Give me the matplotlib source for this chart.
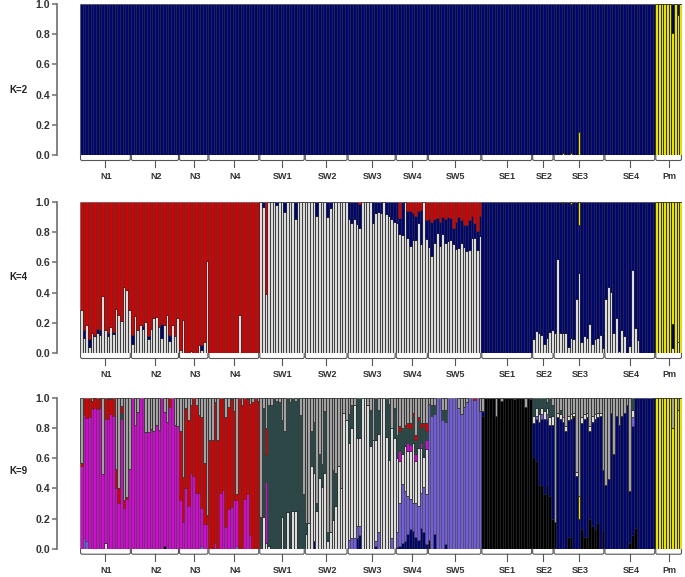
"""STRUCTURE-style admixture barplots for K=2, K=4 and K=9."""
import matplotlib
matplotlib.use("Agg")
import matplotlib.pyplot as plt
import numpy as np

plt.rcParams["font.family"] = ["Liberation Sans", "DejaVu Sans"]

# ── Groups ────────────────────────────────────────────────────────────────────
groups = ["N1", "N2", "N3", "N4", "SW1", "SW2", "SW3", "SW4", "SW5",
          "SE1", "SE2", "SE3", "SE4", "Pm"]
counts = [19, 18, 11, 19, 17, 16, 18, 12, 20, 19, 8, 19, 19, 10]
n_bars = sum(counts)

NAVY, RED, YELLOW = "#00066c", "#cc0606", "#e6e010"
LIGHT, GRAY = "#dcdcdc", "#a2a2a2"
BLACK, SLATE, MAGENTA, GREEN = "#000000", "#7260d2", "#c810c8", "#2a4a4a"

# ── K=2 : tops of each stacked component ──────────────────────────────────────
k2_yellow = [0] * 180 + [.01, 0, 0, .01, 0, 0, .15] + [0] * 28 \
    + [1, 1, 1, 1, 1, 1, .81, 1, .93, 1]
k2_navy = [1] * n_bars

# ── K=4 ───────────────────────────────────────────────────────────────────────
k4_light = (
    [.285, .10, .185, .04, .135, .11, .13, .12, .38, .15, .115, .175, .125, .29, .25, .21, .44, .415, .285]
    + [.06, .245, .15, .185, .16, .205, .09, .16, .235, .24, .175, .10, .185, .25, .08, .185, .11, .23]
    + [.02, .22, 0, 0, .015, 0, 0, .05, .02, .07, .61]
    + [0] * 11 + [.25] + [0] * 7
    + [1, .97, .39, 1, 1, 1, .98, 1, 1, .935, 1, 1, 1, .885, 1, 1, 1]
    + [1, 1, 1, 1, .905, 1, 1, 1, .90, .96, 1, 1, 1, 1, 1, 1]
    + [.885, .86, .885, .855, .825, 1, 1, 1, 1, .86, .93, .935, .93, 1, .92, .905, .885, .87]
    + [.86, .785, .78, 1, .76, .71, .75, .75, .86, .72, 1, .755]
    + [.705, .64, .73, .795, .71, .785, .73, .745, .75, .72, .69, .695, .73, .705, .675, .685, .76, .76, .685, .775]
    + [0] * 13 + [.005] + [0] * 5
    + [.095, .145, .13, .12, .06, .10, .14, .15]
    + [.135, .625, .13, .13, .135, .04, .10, .095, .36, .53, .07, .11, .10, .195, .06, .09, .10, .12, .035]
    + [.36, .44, .405, .135, .235, .015, .15, .11, 0, .045, .55, .165, .085, 0, 0, 0, 0, 0, 0]
    + [0, 0, 0, 0, 0, 0, .03, 0, .075, 0]
)
k4_navy = (
    [.285, .155, .185, .09, .135, .12, .16, .15, .38, .15, .13, .175, .14, .29, .25, .21, .44, .415, .285]
    + [.12, .245, .15, .185, .18, .205, .11, .16, .235, .24, .175, .19, .185, .25, .12, .185, .11, .23]
    + [.02, .22, 0, 0, .015, 0, 0, .05, .05, .07, .61]
    + [0] * 11 + [.25] + [0] * 7
    + [1, 1, .39] + [1] * 14
    + [1] * 16
    + [1, 1, 1, 1, .99] + [1] * 13
    + [1, .895, 1, 1, .94, .94, .93, .905, .94, .95, 1, .88]
    + [.885, .87, .89, .895, .87, .90, .885, .90, .895, .83, .87, .90, .88, .85, .845, .88, .905, .86, .805, .905]
    + [1] * 19 + [1] * 8
    + [1, 1, 1, .995, 1, 1, .99, 1, 1, .85] + [1] * 9
    + [1] * 19
    + [0, 0, 0, 0, 0, 0, .19, 0, .075, 0]
)
k4_red = [1] * 150 + [0] * 75
k4_yellow = [0] * 150 + [1] * 75

# ── K=9 ───────────────────────────────────────────────────────────────────────
k9_black = (
    [0] * 19 + [0] * 12 + [.02] + [0] * 5 + [0] * 30 + [0] * 63
    + [.06] + [0] * 19
    + [.88, 1, 1, 1, 1, .88, 1, .98, 1, 1, 1, 1, .99, 1, 1, 1, .94, 1, .99]
    + [.61, .58, .42, .42, .36, .42, .35, .20]
    + [.18, 0, 0, 0, 0, .08, .08, 0, 0, 0, .13, .08, .08, .20, .15, .13, .17, 0, .12]
    + [0] * 9 + [.04, .09, .14] + [0] * 7
    + [0] * 10
)
k9_navy = (
    [0] * 67 + [0] * 17
    + [0, 0, 0, .05] + [0] * 12
    + [0, 0, 0, .07, .09, 0, 0, 0, 0, 0, .02] + [0] * 7
    + [.01, .02, .04, .05, .10, .13, .12, .08, .06, .14, .11, .03]
    + [0, 0, .10, 0, 0, 0, .03] + [0] * 13
    + [.91] + [0] * 18
    + [.83, .86, .84, .86, .86, .86, .82, .82]
    + [.18, .87, .86, .84, .78, .85, .86, .87, .48, .20, .83, .86, .87, .78, .84, .86, .87, .88, .52]
    + [.42, .46, .90, .63, .88, .82, .88, .90, .95, .38, .81, 1, 1, 1, 1, 1, 1, 1, .995]
    + [0] * 10
)
k9_slate = (
    [0, .07, .05] + [0] * 16 + [0] * 18
    + [0] * 8 + [.02, 0, 0]
    + [0] * 10 + [.02] + [0] * 8
    + [0] * 33
    + [.06, .07, .07, .15, .15, 0, 0, 0, 0, 0, .05, .11, 0, 0, 0, 0, .07, 0]
    + [.11, .30, .43, .38, .35, .33, .30, .30, .28, .37, .41, .36]
    + [.96, .88, .89, 1, 1, .85, .84, 1, 1, 1, 1, .93, .89, .94, .97, 1, 1, .985, 1, .91]
    + [0] * 19
    + [0, .88, 0, .89, 0, .89, 0, 0]
    + [0] * 19
    + [0] * 10 + [.87] + [0] * 8
    + [0] * 10
)
k9_yellow = (
    [0] * 177 + [0] * 7 + [.88, 0, .35] + [0] * 9 + [0] * 19
    + [1, 1, 1, 1, 1, 1, .80, 1, .92, 1]
)
k9_light = (
    [0] * 9 + [.04] + [0] * 9 + [0] * 48
    + [0, .21, .04, .02, 0, 0, 0, 0, .21, 0, .24, 0, .25, .25, 0, 0, 0]
    + [.10, .17, .55, .50, .25, .47, .41, .50, .05, .11, .19, .28, .55, .40, .90, .85]
    + [.70, .80, .95, .73, .73, 1, 1, .95, .68, .72, .72, .76, 1, 1, .74, .59, .80, .73]
    + [.60, .58, .63, .68, .65, .65, .70, .58, .67, .67, .61, .66]
    + [0] * 20 + [0] * 19
    + [.88, .93, .89, .93, .91, .93, .87, .88]
    + [0, .90, .89, .87, .81, .88, .89, .90, .51, 0, .87, .89, .90, .81, .88, .89, .90, .90, 0]
    + [0] * 10 + [.92] + [0] * 8
    + [0] * 10
)
k9_magenta = (
    [.55, .885, .865, .87, .925, .93, .925, .93, .495, .86, .86, .89, .88, .40, .30, .86, .27, .33, .525]
    + [1, .82, .905, 1, 1, .77, .77, .79, .78, .82, .785, 1, .905, .84, .94, 1, .82, .81]
    + [.32, .18, .40, .28, .50, .48, .37, .37, .27, .165, .165]
    + [0, 0, .04, 0, .37, .39, .145, .26, .275, .32, .32, 0, 0, .33, .36, .09, 0, 0, 0]
    + [0, 0, .44] + [0] * 14 + [0] * 34
    + [0, .65, 0, 0, .70, .69, 0, .63, 0, .70, 0, .72]
    + [0] * 95
)
k9_green = (
    [0] * 15 + [.90] + [0] * 3 + [0] * 48
    + [.21, .93, .62, .95, .95, 1, .98, .97, .85, .78, 1, .97, 1, .98, 1, .885, .365]
    + [.17, 0, .78, .84, .30, .63, .56, .91, .11, .11, .52, .50, 0, 0, 0, 0]
    + [.89, .95, 0, 1, 1, 0, 0, 0, .92, 0, 1, .92, 0, 0, 1, .96, 0, .93]
    + [.75, .78, .80, .82, .80, .80, .88, .72, .85, .80, .81, .78]
    + [0, .95, .95, 0, 0, .92, .92] + [0] * 13
    + [0] * 19
    + [1, 1, 1, 1, 1, .97, 1, .95]
    + [0, 0, .92] + [0] * 16
    + [0] * 10 + [1] + [0] * 8
    + [0] * 10
)
k9_red = (
    [.565, 1, 1, 1, .98, .995, 1, .99, 0, 1, .99, .99, 1, .53, .40, .945, .32, .34, 0]
    + [0] * 14 + [1] + [0] * 3
    + [.78, .475, .93, .85, .95, 1, .95, .885, .87, .57, .22]
    + [.72, .72, .97, .72, 1, .99, .875, .94, .99, .91, .36, 1, .95, 1, .99, .96, .97, 1, .98]
    + [0, 0, .80] + [0] * 14 + [0] * 34
    + [0, .81, 0, 0, .83, .83, .90, .75, .87, .83, .83, .83]
    + [0] * 17 + [1, 0, 0]
    + [0] * 65 + [0] * 10
)
k9_gray = [1] * n_bars

panels = [
    ("K=2", 155.0, 90, [(k2_yellow, YELLOW), (k2_navy, NAVY)]),
    ("K=4", 353.0, 277, [(k4_light, LIGHT), (k4_navy, NAVY), (k4_red, RED), (k4_yellow, YELLOW)]),
    ("K=9", 548.7, 471, [(k9_black, BLACK), (k9_navy, NAVY), (k9_slate, SLATE), (k9_yellow, YELLOW),
                         (k9_light, LIGHT), (k9_magenta, MAGENTA), (k9_green, GREEN), (k9_red, RED),
                         (k9_gray, GRAY)]),
]

W, H = 685, 577
LEFT, RIGHT, PANEL_H = 80.0, 682.0, 151.0

fig = plt.figure(figsize=(W / 100, H / 100), dpi=100)
xs = np.arange(n_bars) + 0.5
edges = np.cumsum([0] + counts)
px_unit = 72 / 100  # points per pixel


def px_y(px):
    # pixels below the zero line -> axes fraction
    return -px / PANEL_H


for label, y_zero, y_label, stack in panels:
    ax = fig.add_axes([LEFT / W, 1 - y_zero / H, (RIGHT - LEFT) / W, PANEL_H / H])
    bottom = np.zeros(n_bars)
    for tops, colour in stack:
        tops = np.asarray(tops, dtype=float)
        assert len(tops) == n_bars, (label, colour, len(tops))
        heights = np.maximum(tops - bottom, 0)
        keep = heights > 0   # zero-height bars would leave a stray edge line
        if colour in (LIGHT, GRAY):
            edge, lw, z = (0.15, 0.15, 0.15, 0.8), 0.7, 2
        elif colour == YELLOW:
            edge, lw, z = (0.1, 0.1, 0, 0.8), 0.7, 3
        else:
            edge, lw, z = (0, 0, 0, 0.42), 0.5, 2
        ax.bar(xs[keep], heights[keep], bottom=bottom[keep], width=1.0, color=colour,
               edgecolor=edge, linewidth=lw, zorder=z)
        bottom = np.maximum(bottom, tops)

    ax.set_xlim(0, n_bars)
    ax.set_ylim(0, 1)
    for side in ("top", "right", "bottom"):
        ax.spines[side].set_visible(False)
    ax.spines["left"].set_position(("outward", 23 * px_unit))
    ax.spines["left"].set_color("#6e6e6e")
    ax.spines["left"].set_linewidth(1.2)
    ax.set_xticks([])
    ax.set_yticks(np.arange(0, 1.01, 0.2))
    ax.set_yticklabels(["0.0", "0.2", "0.4", "0.6", "0.8", "1.0"],
                       fontsize=7.6, fontweight="bold", color="#333333")
    ax.tick_params(axis="y", length=3.6, width=1.1, color="#6e6e6e", pad=1.5)

    # group brackets under the bars
    trans = ax.get_xaxis_transform()
    for i, name in enumerate(groups):
        x0, x1 = edges[i] + 0.2, edges[i + 1] - 0.2
        mid = (x0 + x1) / 2
        ax.plot([x0, x0, x0 + 0.4, x1 - 0.4, x1, x1],
                [px_y(0.5), px_y(4.5), px_y(5.5), px_y(5.5), px_y(4.5), px_y(0.5)],
                transform=trans, clip_on=False, color="#555555", lw=0.8)
        ax.plot([mid, mid], [px_y(5.5), px_y(12)], transform=trans, clip_on=False,
                color="#555555", lw=0.8)
        ax.text(mid + 0.4, px_y(21.5), name, transform=trans, ha="center", va="center",
                fontsize=6.5, fontweight="bold", color="#333333")

    fig.text(18 / W, 1 - y_label / H, label, ha="center", va="center",
             fontsize=7, fontweight="bold", color="#222222")

fig.savefig("out.png", dpi=100)
